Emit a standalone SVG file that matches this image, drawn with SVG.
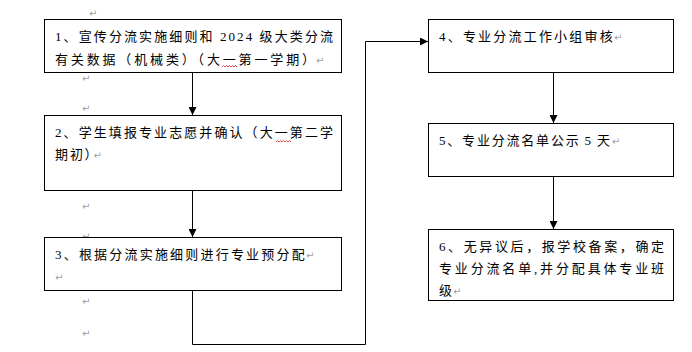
<svg xmlns="http://www.w3.org/2000/svg" width="692" height="352" viewBox="0 0 692 352">
<defs>
<marker id="arr" markerUnits="userSpaceOnUse" markerWidth="8" markerHeight="8" refX="8" refY="4" orient="auto">
<path d="M0,0 L8,4 L0,8 z" fill="#000"/>
</marker>
<style>
.box{fill:#fff;stroke:#000;stroke-width:1}
.t{font-family:"Liberation Serif","Noto Sans CJK SC",serif;font-size:13px;fill:#000}
.pm{font-family:"DejaVu Sans",sans-serif;font-size:10px;fill:#a0a0a0}
.conn{fill:none;stroke:#000;stroke-width:1}
.wavy{fill:none;stroke:#e02020;stroke-width:0.8}
</style>
</defs>
<rect width="692" height="352" fill="#fff"/>
<g id="marks">
<text class="pm" x="89" y="17">↵</text>
<text class="pm" x="82" y="82">↵</text>
<text class="pm" x="82" y="112">↵</text>
<text class="pm" x="82" y="210">↵</text>
<text class="pm" x="82" y="240">↵</text>
<text class="pm" x="82" y="305">↵</text>
<text class="pm" x="82" y="337">↵</text>
</g>
<g id="connectors">
<path class="conn" d="M192.5 72.5 V115" marker-end="url(#arr)"/>
<path class="conn" d="M192.5 190.5 V237" marker-end="url(#arr)"/>
<path class="conn" d="M192.5 291 V344.5 H365.5 V41.5 H428" marker-end="url(#arr)"/>
<path class="conn" d="M553.5 72.5 V123" marker-end="url(#arr)"/>
<path class="conn" d="M553.5 176.5 V229" marker-end="url(#arr)"/>
</g>
<g id="n1">
<rect class="box" x="44.5" y="19.5" width="297" height="53"/>
<text class="t" x="55" y="41" textLength="278" lengthAdjust="spacing">1、宣传分流实施细则和 2024 级大类分流</text>
<text class="t" x="55" y="64" textLength="260" lengthAdjust="spacing">有关数据（机械类）（大一第一学期）</text>
<text class="pm" x="316" y="64">↵</text>
<path class="wavy" d="M222 67 l1.5 -1.5 l1.5 1.5 l1.5 -1.5 l1.5 1.5 l1.5 -1.5 l1.5 1.5 l1.5 -1.5 l1.5 1.5 l1.5 -1.5 l1.5 1.5"/>
</g>
<g id="n2">
<rect class="box" x="44.5" y="115.5" width="297" height="75"/>
<text class="t" x="55" y="137" textLength="278" lengthAdjust="spacing">2、学生填报专业志愿并确认（大一第二学</text>
<text class="t" x="55" y="159" letter-spacing="2" style="font-feature-settings:'palt'">期初）<tspan class="pm">↵</tspan></text>
<path class="wavy" d="M276 142 l1.5 -1.5 l1.5 1.5 l1.5 -1.5 l1.5 1.5 l1.5 -1.5 l1.5 1.5 l1.5 -1.5 l1.5 1.5 l1.5 -1.5 l1.5 1.5"/>
</g>
<g id="n3">
<rect class="box" x="44.5" y="237.5" width="297" height="53"/>
<text class="t" x="55" y="259" letter-spacing="2.2">3、根据分流实施细则进行专业预分配<tspan class="pm" dx="-1">↵</tspan></text>
<text class="pm" x="55" y="281">↵</text>
</g>
<g id="n4">
<rect class="box" x="428.5" y="19.5" width="245" height="53"/>
<text class="t" x="439" y="41" letter-spacing="2.2">4、专业分流工作小组审核<tspan class="pm" dx="-1">↵</tspan></text>
</g>
<g id="n5">
<rect class="box" x="428.5" y="123.5" width="245" height="53"/>
<text class="t" x="439" y="145" letter-spacing="1.8" word-spacing="-1">5、专业分流名单公示 5 天<tspan class="pm">↵</tspan></text>
</g>
<g id="n6">
<rect class="box" x="428.5" y="229.5" width="245" height="71"/>
<text class="t" x="439" y="251" textLength="225" lengthAdjust="spacing">6、无异议后，报学校备案，确定</text>
<text class="t" x="439" y="273" textLength="225" lengthAdjust="spacing">专业分流名单,并分配具体专业班</text>
<text class="t" x="439" y="295">级<tspan class="pm" dx="1">↵</tspan></text>
</g>
</svg>
